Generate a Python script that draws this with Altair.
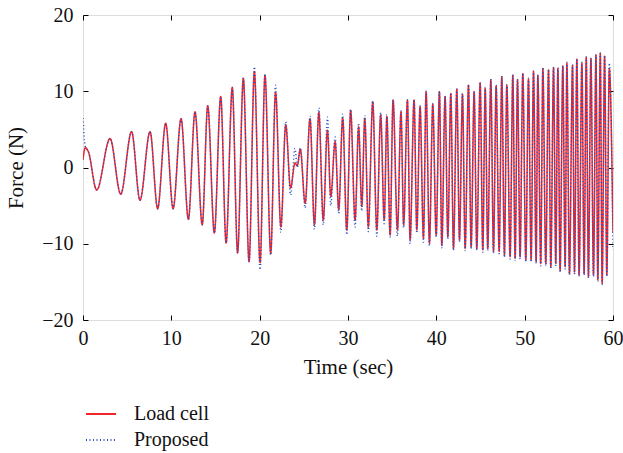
import altair as alt
import pandas as pd

# Extrema (peaks / troughs), in seconds
time_s = [
    0.0, 0.25, 0.6, 1.55, 3.06, 4.27, 5.5, 6.45, 7.59, 8.45, 9.36, 10.2, 11.1, 11.93,
    12.68, 13.5, 14.12, 14.87, 15.59, 16.2, 16.9, 17.5, 18.15, 18.8, 19.4, 20.05,
    20.6, 21.25, 21.8, 22.4, 22.95, 23.5, 24.0, 24.25, 24.6, 25.15, 25.7, 26.2,
    26.7, 27.2, 27.67, 28.05, 28.54, 28.95, 29.4, 29.86, 30.3, 30.8, 31.2, 31.56,
    31.9, 32.3, 32.8, 33.26, 33.7, 34.1, 34.4, 34.77, 35.1, 35.6, 36.0, 36.3,
    36.73, 37.03, 37.48, 37.79, 38.16, 38.54, 38.84, 39.22, 39.6, 39.98, 40.35,
    40.62, 40.99, 41.3, 41.64, 41.94, 42.32, 42.62, 42.96, 43.26, 43.64, 43.94,
    44.28, 44.58, 44.96, 45.26, 45.53, 45.82, 46.17, 46.47, 46.77, 47.11, 47.41,
    47.71, 47.98, 48.35, 48.66, 48.92, 49.19, 49.48, 49.79, 50.13, 50.43, 50.73,
    51.0, 51.3, 51.49, 51.82, 52.06, 52.39, 52.7, 52.96, 53.27, 53.52, 53.76,
    54.01, 54.32, 54.58, 54.78, 55.07, 55.42, 55.64, 55.91, 56.16, 56.48, 56.73,
    56.97, 57.22, 57.5, 57.79, 58.07, 58.28, 58.56, 58.77, 59.05, 59.3, 59.58, 60.0,
]

load_cell = [
    1.0, 2.6, 2.1, -2.95, 3.8, -3.5, 4.7, -4.3, 4.7, -5.4, 5.8, -5.4, 6.4, -6.8,
    7.3, -7.5, 8.1, -8.6, 9.3, -9.9, 10.5, -11.2, 11.7, -12.35, 12.6, -12.5,
    12.1, -11.3, 9.9, -7.8, 5.6, -2.7, 0.6, 0.2, 2.4, -4.7, 6.4, -7.5,
    7.2, -6.9, 4.9, -3.8, 3.4, -5.5, 6.5, -8.2, 7.5, -6.9, 5.35, -5.1,
    6.45, -7.8, 8.6, -8.2, 6.9, -6.9, 6.7, -8.85, 8.85, -8.2, 7.3, -7.5,
    8.85, -9.5, 8.85, -8.2, 8.0, -9.3, 9.95, -9.95, 8.3, -8.85, 9.95,
    -10.2, 9.3, -9.1, 9.7, -10.6, 10.25, -9.5, 9.6, -10.6, 10.8, -10.4,
    9.95, -10.6, 11.1, -10.8, 10.4, -10.6, 11.5, -11.0, 10.7, -11.0, 11.9,
    -11.5, 10.8, -11.7, 12.1, -11.9, 11.5, -11.7, 12.3, -12.1, 11.6, -12.1,
    12.6, -12.35, 12.1, -12.6, 13.0, -12.6, 12.8, -13.0, 13.1, -12.6, 13.0,
    -13.5, 13.3, -13.0, 13.7, -13.9, 13.4, -13.7, 14.2, -14.1, 13.7, -13.9,
    14.45, -14.3, 14.3, -14.1, 14.75, -14.75, 15.0, -15.2, 14.6, -14.1, 13.0, -8.6,
]

proposed = [
    6.5, 2.8, 2.1, -2.95, 3.8, -3.5, 4.7, -4.3, 4.7, -5.4, 5.8, -5.4, 6.4, -6.8,
    7.3, -7.5, 8.1, -8.6, 9.3, -9.9, 10.5, -11.2, 11.7, -12.4, 13.2, -13.4,
    12.3, -11.5, 10.8, -8.5, 6.0, -3.6, 2.5, 0.0, 2.6, -5.3, 6.7, -8.1,
    7.8, -7.5, 6.6, -5.0, 4.0, -6.0, 7.0, -8.8, 7.6, -7.8, 5.8, -5.7,
    6.8, -8.4, 8.7, -9.0, 7.2, -7.6, 6.9, -9.1, 8.9, -9.0, 7.4, -7.9,
    8.9, -10.0, 8.9, -8.6, 8.1, -9.8, 10.0, -10.3, 8.4, -9.2, 10.0,
    -10.6, 9.4, -9.4, 9.8, -10.9, 10.3, -9.8, 9.7, -10.9, 10.9, -10.7,
    10.0, -10.9, 11.2, -11.1, 10.5, -10.9, 11.6, -11.3, 10.8, -11.3, 12.0,
    -11.8, 10.9, -12.0, 12.2, -12.2, 11.6, -12.0, 12.4, -12.4, 11.7, -12.4,
    12.7, -12.6, 12.2, -12.9, 13.1, -12.9, 12.9, -13.3, 13.2, -12.9, 13.1,
    -13.8, 13.4, -13.3, 13.8, -14.1, 13.5, -14.0, 14.3, -14.3, 13.8, -14.1,
    14.5, -14.5, 14.4, -14.3, 14.8, -14.9, 15.0, -15.3, 14.7, -14.3, 13.7, -10.8,
]

series_names = ["Load cell", "Proposed"]
series_colors = ["#f2262a", "#2f4fc0"]
series_dash = [[1, 0], [1, 2.5]]

df = pd.concat([
    pd.DataFrame({"t": time_s, "f": load_cell, "s": series_names[0]}),
    pd.DataFrame({"t": time_s, "f": proposed, "s": series_names[1]}),
])

FONT = "Liberation Serif"
xscale = alt.Scale(domain=[0, 60], nice=False)
yscale = alt.Scale(domain=[-20, 20], nice=False)
xticks = [0, 10, 20, 30, 40, 50, 60]
yticks = [-20, -10, 0, 10, 20]

legend_kw = dict(orient="none", legendX=2, legendY=383, title=None,
                 labelFont=FONT, labelFontSize=20, labelColor="#111",
                 symbolType="stroke", symbolSize=900, symbolStrokeWidth=2,
                 labelOffset=17, rowPadding=0, labelLimit=200)

lines = alt.Chart(df).mark_line(interpolate="monotone", clip=True).encode(
    x=alt.X("t:Q", scale=xscale, axis=alt.Axis(
        orient="bottom", values=xticks, title="Time (sec)", grid=False, domain=False,
        tickSize=5, offset=-5, tickColor="#000", labelPadding=8, titlePadding=8,
        labelFlush=False, labelFont=FONT, labelFontSize=20, titleFont=FONT,
        titleFontSize=21, titleFontWeight="normal", labelColor="#111", titleColor="#111")),
    y=alt.Y("f:Q", scale=yscale, axis=alt.Axis(
        orient="left", values=yticks, title="Force (N)", grid=False, domain=False,
        tickSize=5, offset=-5, tickColor="#000", labelPadding=10, titlePadding=15,
        labelFlush=False, labelFont=FONT, labelFontSize=20, titleFont=FONT,
        titleFontSize=21, titleFontWeight="normal", labelColor="#111", titleColor="#111")),
    color=alt.Color("s:N", scale=alt.Scale(domain=series_names, range=series_colors),
                    legend=alt.Legend(**legend_kw)),
    strokeDash=alt.StrokeDash("s:N", scale=alt.Scale(domain=series_names, range=series_dash),
                              legend=alt.Legend(**legend_kw)),
    strokeWidth=alt.value(1.5),
    order=alt.Order("t:Q"),
)

frame_axes = alt.Chart(df).mark_line(opacity=0).encode(
    x=alt.X("t:Q", scale=xscale, axis=alt.Axis(
        orient="top", values=xticks, labels=False, title=None, grid=False, domain=False,
        tickSize=5, offset=-5, tickColor="#000")),
    y=alt.Y("f:Q", scale=yscale, axis=alt.Axis(
        orient="right", values=yticks, labels=False, title=None, grid=False, domain=False,
        tickSize=5, offset=-5, tickColor="#000")),
    detail="s:N",
)

chart = alt.layer(lines, frame_axes).resolve_axis(x="independent", y="independent").properties(
    width=530, height=305,
    autosize=alt.AutoSizeParams(type="none"),
    padding={"left": 83, "top": 15, "right": 10, "bottom": 133},
).configure_view(stroke="#000", strokeWidth=1.2).configure(background="white")

chart.save("out.html", embed_options={"renderer": "svg", "actions": False})
